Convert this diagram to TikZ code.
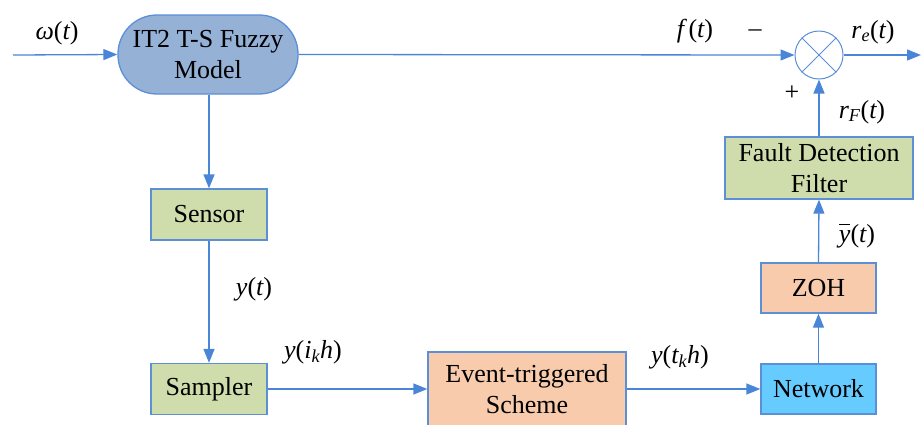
\documentclass[tikz,border=0pt]{standalone}
\usepackage{fontspec}
\setmainfont{Liberation Serif}
\newfontfamily\blockfont{Liberation Serif}
\usetikzlibrary{arrows.meta,positioning}
\definecolor{wire}{HTML}{4A86D8}
\definecolor{edge}{HTML}{5B8FD6}
\definecolor{plantfill}{HTML}{95B1D6}
\definecolor{greenfill}{HTML}{CFDCAC}
\definecolor{orangefill}{HTML}{F8CBAD}
\definecolor{netfill}{HTML}{66CCFF}
\tikzset{
  every node/.style={font=\blockfont\fontsize{26}{30.5}\selectfont},
  blk/.style={draw=edge, line width=1.3pt, align=center, inner sep=0pt},
  greenbox/.style={blk, fill=greenfill},
  orangebox/.style={blk, fill=orangefill},
  wirearrow/.style={draw=wire, line width=1.3pt, -{Triangle[length=14pt,width=11pt]}},
  lbl/.style={inner sep=0pt}
}
\newcommand{\vi}[1]{{\blockfont\itshape #1}}
\newcommand{\ybar}{\vi{y}\llap{\rule[18pt]{11pt}{1.2pt}\hspace{0.5pt}}}
\begin{document}
\begin{tikzpicture}[x=1pt,y=-1pt]
  \useasboundingbox (0,0) rectangle (921,424);

  % plant block
  \node[blk, fill=plantfill, minimum width=180pt, minimum height=79pt,
        rounded corners=39pt] (plant) at (208,54.5) {IT2 T-S Fuzzy\\Model};

  % measurement chain
  \node[greenbox, minimum width=116pt, minimum height=51pt] (sensor) at (209,214.5) {Sensor};
  \node[greenbox, minimum width=116pt, minimum height=51pt] (sampler) at (209,389) {Sampler};
  \node[orangebox, minimum width=198pt, minimum height=74pt] (event) at (527,389) {Event-triggered\\Scheme};
  \node[blk, fill=netfill, minimum width=115pt, minimum height=50pt] (net) at (818.5,389) {Network};
  \node[orangebox, minimum width=115pt, minimum height=50pt] (zoh) at (818.5,288) {ZOH};
  \node[greenbox, minimum width=188pt, minimum height=62pt] (filter) at (819,168) {Fault Detection\\Filter};

  % summing junction
  \node[draw=edge, line width=1pt, circle, minimum size=48pt, inner sep=0pt] (sum) at (819,55) {};
  \draw[draw=edge, line width=1pt] (sum.north west) -- (sum.south east)
        (sum.north east) -- (sum.south west);

  \coordinate (in) at (13,55);
  \coordinate (out) at (921,55);

  % connectors
  \draw[wirearrow] (in) -- (plant.west);
  \draw[wirearrow] (plant.east) -- (sum.west);
  \draw[wirearrow] (sum.east) -- (out);
  \draw[wirearrow] (plant.south -| sensor.north) -- (sensor.north);
  \draw[wirearrow] (sensor.south) -- (sampler.north);
  \draw[wirearrow] (sampler.east) -- (event.west);
  \draw[wirearrow] (event.east) -- (net.west);
  \draw[wirearrow] (net.north) -- (zoh.south);
  \draw[wirearrow] (zoh.north) -- (filter.south);
  \draw[wirearrow] (filter.north) -- (sum.south);

  % signal labels
  \node[lbl] (lw) at (57,33) {\vi{ω}(\vi{t})};
  \node[lbl] (lf) at (695,31) {\vi{f}\,(\vi{t})};
  \node[lbl] (lminus) at (755,33) {\textendash};
  \node[lbl] (lre) at (873,32) {\vi{r}\textsubscript{\vi{e}}(\vi{t})};
  \node[lbl] (lplus) at (792,93) {+};
  \node[lbl] (lrf) at (862,112) {\vi{r}\textsubscript{\vi{F}}(\vi{t})};
  \node[lbl] (lyb) at (857,236) {\ybar(\vi{t})};
  \node[lbl] (ly) at (254,289) {\vi{y}(\vi{t})};
  \node[lbl] (lyi) at (313,352) {\vi{y}(\vi{i}\textsubscript{\vi{k}}\vi{h})};
  \node[lbl] (lyt) at (680,357) {\vi{y}(\vi{t}\textsubscript{\vi{k}}\vi{h})};
\end{tikzpicture}
\end{document}
